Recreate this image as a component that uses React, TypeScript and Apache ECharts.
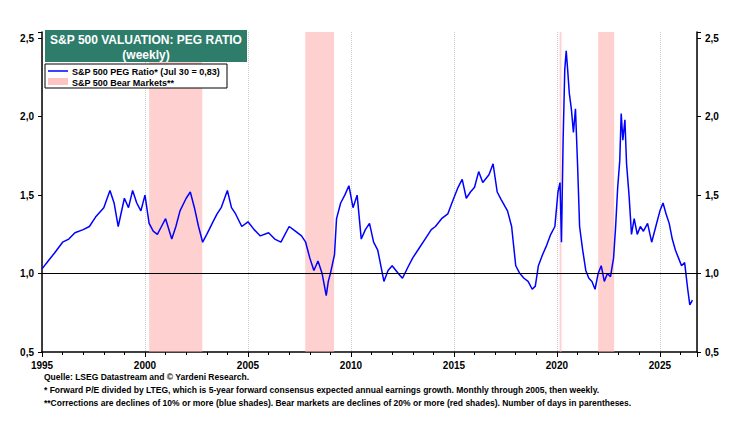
import { useEffect, useRef } from "react";
import * as echarts from "echarts";

const pegYears = [
  1995.0, 1995.3, 1995.6, 1996.0, 1996.3, 1996.6, 1997.0, 1997.3, 1997.6, 1998.0, 1998.3, 1998.5, 1998.7, 1999.0, 1999.2, 1999.4,
  1999.6, 1999.8, 2000.0, 2000.2, 2000.4, 2000.6, 2000.8, 2001.0, 2001.3, 2001.5, 2001.7, 2002.0, 2002.2, 2002.4, 2002.6, 2002.8,
  2003.0, 2003.3, 2003.5, 2003.7, 2004.0, 2004.2, 2004.4, 2004.7, 2005.0, 2005.3, 2005.6, 2006.0, 2006.3, 2006.6, 2007.0, 2007.3,
  2007.6, 2007.8, 2008.0, 2008.2, 2008.4, 2008.6, 2008.8, 2008.9, 2009.0, 2009.2, 2009.3, 2009.5, 2009.7, 2009.9, 2010.1, 2010.3,
  2010.5, 2010.7, 2010.9, 2011.1, 2011.3, 2011.6, 2011.8, 2012.0, 2012.3, 2012.5, 2012.8, 2013.0, 2013.3, 2013.6, 2013.9, 2014.1,
  2014.4, 2014.7, 2014.9, 2015.2, 2015.4, 2015.6, 2015.8, 2016.0, 2016.2, 2016.4, 2016.7, 2016.9, 2017.1, 2017.3, 2017.6, 2017.8,
  2018.0, 2018.2, 2018.4, 2018.6, 2018.8, 2018.95, 2019.1, 2019.3, 2019.5, 2019.7, 2019.9, 2020.05, 2020.15, 2020.22, 2020.3, 2020.38,
  2020.45, 2020.52, 2020.6, 2020.7, 2020.8, 2020.9, 2021.0, 2021.1, 2021.25, 2021.4, 2021.55, 2021.7, 2021.85, 2022.0, 2022.15, 2022.3,
  2022.45, 2022.6, 2022.75, 2022.85, 2022.95, 2023.05, 2023.12, 2023.2, 2023.3, 2023.38, 2023.5, 2023.62, 2023.75, 2023.9, 2024.05, 2024.2,
  2024.4, 2024.6, 2024.8, 2025.0, 2025.15, 2025.3, 2025.45, 2025.6, 2025.75, 2025.9, 2026.05, 2026.2, 2026.35, 2026.45, 2026.58,
];
const pegValues = [
  1.03, 1.08, 1.13, 1.2, 1.22, 1.26, 1.28, 1.3, 1.36, 1.42, 1.53, 1.45, 1.3, 1.48, 1.42, 1.53,
  1.45, 1.4, 1.5, 1.32, 1.27, 1.25, 1.3, 1.35, 1.22, 1.3, 1.4, 1.48, 1.52, 1.42, 1.3, 1.2,
  1.25, 1.33, 1.38, 1.42, 1.53, 1.42, 1.38, 1.3, 1.33, 1.28, 1.24, 1.26, 1.22, 1.2, 1.3, 1.27,
  1.24, 1.2, 1.1, 1.02, 1.08, 1.0, 0.86, 0.95, 1.0, 1.12, 1.35, 1.45, 1.5, 1.56, 1.42, 1.5,
  1.22, 1.28, 1.32, 1.2, 1.15, 0.95, 1.02, 1.05, 1.0, 0.97, 1.05, 1.1, 1.16, 1.22, 1.28, 1.3,
  1.35, 1.38, 1.45, 1.55, 1.6, 1.48, 1.52, 1.55, 1.65, 1.58, 1.63, 1.7, 1.52, 1.47, 1.4, 1.3,
  1.05, 1.0, 0.97, 0.95, 0.9, 0.92, 1.05, 1.12, 1.18, 1.25, 1.3, 1.52, 1.58, 1.2, 1.85, 2.3,
  2.42, 2.3, 2.15, 2.05, 1.9, 2.05, 1.7, 1.3, 1.15, 1.02, 0.97, 0.95, 0.9, 1.0, 1.05, 0.95,
  1.0, 0.98, 1.1, 1.3, 1.55, 1.72, 2.02, 1.85, 1.98, 1.7, 1.5, 1.25, 1.35, 1.25, 1.3, 1.27,
  1.32, 1.2, 1.3, 1.4, 1.45, 1.38, 1.32, 1.22, 1.15, 1.1, 1.05, 1.07, 0.9, 0.8, 0.83,
];
const bearStarts = [2000.2, 2007.78, 2020.13, 2022.0];
const bearEnds = [2002.78, 2009.18, 2020.22, 2022.78];
const footnotes = [
  "Quelle: LSEG Datastream and © Yardeni Research.",
  "* Forward P/E divided by LTEG, which is 5-year forward consensus expected annual earnings growth. Monthly through 2005, then weekly.",
  "**Corrections are declines of 10% or more (blue shades). Bear markets are declines of 20% or more (red shades). Number of days in parentheses.",
];

const FONT = "Liberation Sans";

const App = () => {
  const ref = useRef<HTMLDivElement>(null);

  useEffect(() => {
    if (!ref.current) return;
    const chart = echarts.init(ref.current, undefined, { renderer: "svg" });
    const fmt = (v: number) => v.toFixed(1).replace(".", ",");
    const yAxisBase = {
      type: "value" as const,
      min: 0.5,
      max: 2.54,
      interval: 0.5,
      axisLine: { show: true, lineStyle: { color: "#000", width: 1.5 } },
      axisTick: { show: true, length: 4, lineStyle: { color: "#000" } },
      axisLabel: {
        color: "#000",
        fontFamily: FONT,
        fontWeight: "bold" as const,
        fontSize: 10,
        formatter: (v: number) => (Math.abs(v * 2 - Math.round(v * 2)) < 1e-6 ? fmt(v) : ""),
      },
      splitLine: { show: false },
    };
    chart.setOption({
      animation: false,
      grid: { left: 34, right: 31, top: 24, bottom: 65 },
      xAxis: {
        type: "value",
        min: 1995,
        max: 2026.8,
        interval: 5,
        axisLine: { onZero: false, lineStyle: { color: "#000", width: 1.5 } },
        axisTick: { length: 5, lineStyle: { color: "#000" } },
        minorTick: { show: true, splitNumber: 5, length: 3, lineStyle: { color: "#000" } },
        axisLabel: {
          color: "#000",
          fontFamily: FONT,
          fontWeight: "bold",
          fontSize: 10,
          showMaxLabel: false,
          formatter: (v: number) => (Number.isInteger(v) ? String(v) : ""),
        },
        splitLine: { show: true, lineStyle: { color: "#ccc", type: "dotted" } },
      },
      yAxis: [
        { ...yAxisBase, position: "left" },
        { ...yAxisBase, position: "right" },
      ],
      series: [
        {
          type: "line",
          data: pegYears.map((y, i) => [y, pegValues[i]]),
          showSymbol: false,
          lineStyle: { color: "#0000ff", width: 1.5 },
          z: 3,
          markArea: {
            silent: true,
            itemStyle: { color: "rgba(255,170,170,0.55)" },
            data: bearStarts.map((s, i) => [{ xAxis: s }, { xAxis: bearEnds[i] }]),
          },
          markLine: {
            silent: true,
            symbol: "none",
            label: { show: false },
            lineStyle: { color: "#000", width: 1, type: "solid" },
            data: [{ yAxis: 1 }],
          },
        },
      ],
      graphic: [
        { type: "rect", shape: { x: 37, y: 22, width: 202, height: 32 }, style: { fill: "#2e7d6b" }, z: 10 },
        {
          type: "text", z: 11,
          style: {
            x: 138, y: 24, text: "S&P 500 VALUATION: PEG RATIO\n(weekly)", fill: "#fff", font: `bold 12px "${FONT}"`,
            align: "center", verticalAlign: "top", lineHeight: 15,
          },
        },
        { type: "rect", shape: { x: 37, y: 56, width: 182, height: 24 }, style: { fill: "#fff", stroke: "#000", lineWidth: 1 }, z: 10 },
        { type: "line", shape: { x1: 40, y1: 63, x2: 60, y2: 63 }, style: { stroke: "#0000ff", lineWidth: 1.5 }, z: 11 },
        { type: "rect", shape: { x: 40, y: 70, width: 20, height: 7 }, style: { fill: "rgba(255,170,170,0.7)" }, z: 11 },
        {
          type: "text", z: 11,
          style: { x: 64, y: 58, text: "S&P 500 PEG Ratio* (Jul 30 = 0,83)\nS&P 500 Bear Markets**", fill: "#000", font: `bold 9px "${FONT}"`, lineHeight: 11, verticalAlign: "top" },
        },
        ...footnotes.map((t, i) => ({
          type: "text" as const,
          style: { x: 36, y: 364 + i * 13, text: t, fill: "#000", font: `bold 8.5px "${FONT}"`, verticalAlign: "top" },
        })),
      ],
    });
    return () => chart.dispose();
  }, []);

  return <div ref={ref} style={{ width: 720, height: 409 }} />;
};

export default App;
